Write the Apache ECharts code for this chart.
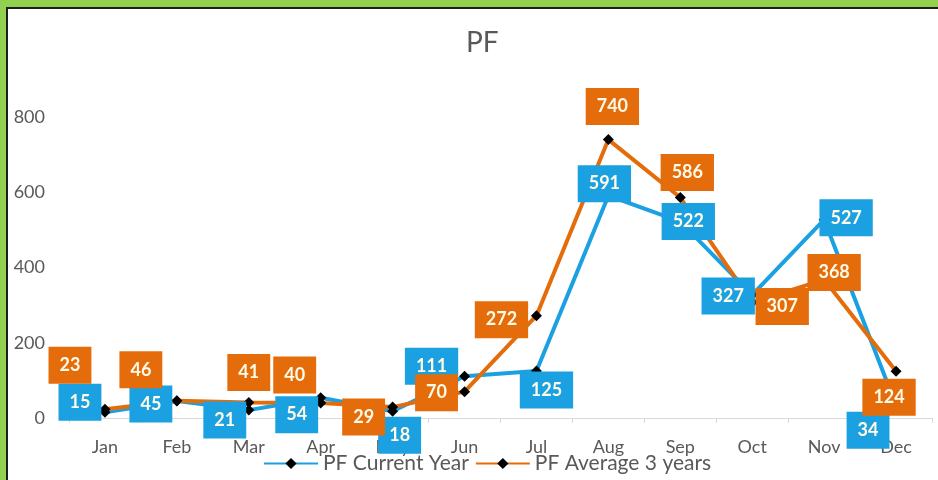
<!DOCTYPE html>
<html>
<head>
<meta charset="utf-8">
<title>PF</title>
<script src="https://cdn.jsdelivr.net/npm/echarts@6/dist/echarts.min.js"></script>
<style>
  html, body { margin: 0; padding: 0; }
  body { width: 938px; height: 480px; position: relative; overflow: hidden; background: #92d050; }
  #frame { position: absolute; left: 6px; top: 7px; right: 0; bottom: 0;
           border-left: 2px solid #1e1e1e; border-top: 2px solid #1e1e1e; background: #ffffff; }
  #chart { position: absolute; left: 0; top: 0; width: 938px; height: 480px; }
</style>
</head>
<body>
<div id="frame"></div>
<div id="chart"></div>
<script>
// Monthly PF figures
const months = ['Jan', 'Feb', 'Mar', 'Apr', 'May', 'Jun', 'Jul', 'Aug', 'Sep', 'Oct', 'Nov', 'Dec'];
const currentYear = [15, 45, 21, 54, 18, 111, 125, 591, 522, 327, 527, 34];
const average3Years = [23, 46, 41, 40, 29, 70, 272, 740, 586, 307, 368, 124];
const yTicks = { min: 0, max: 800, interval: 200 };

// Where each value box sits relative to its point (px)
const currentOffsets = [[-25, -10], [-26, 3], [-24, 10], [-24, 17], [7, 24], [-33, -10],
                        [10, 19], [-4, -12], [8, 0], [-24, 1], [22, -2], [-28, 25]];
const averageOffsets = [[-35, -44], [-36, -31], [0, -30], [-26, -28], [-29, 10], [-28, 1],
                        [-35, 4], [4, -33], [7, -25], [30, 4], [10, -7], [-7, 26]];

const BLUE = '#1ba1e2';
const ORANGE = '#e46c0a';
const GREY = '#595959';
const FONT = 'Lato, "Open Sans", sans-serif';

function lineSeries(name, values, color, z) {
  return {
    name: name,
    type: 'line',
    data: values,
    symbol: 'diamond',
    symbolSize: 11,
    itemStyle: { color: '#000000' },
    lineStyle: { color: color, width: 4 },
    z: z
  };
}

// Value boxes live in their own layer so they sit above both lines and markers
function labelSeries(name, values, offsets, color) {
  return {
    name: name,
    type: 'scatter',
    data: values.map((v, i) => ({
      value: v,
      label: { offset: offsets[i] }
    })),
    symbolSize: 1,
    itemStyle: { color: 'rgba(0,0,0,0)', opacity: 1 },
    emphasis: { disabled: true },
    silent: true,
    z: 10,
    label: {
      show: true,
      position: 'inside',
      opacity: 1,
      backgroundColor: color,
      color: '#fffbe8',
      fontFamily: FONT,
      fontWeight: 'bold',
      fontSize: 18,
      padding: [9, 11, 9, 11],
      lineHeight: 19
    }
  };
}

const chart = echarts.init(document.getElementById('chart'), null, { renderer: 'canvas' });
chart.setOption({
  backgroundColor: 'transparent',
  animation: false,
  title: {
    text: 'PF',
    left: 461,
    top: 24,
    textStyle: { color: GREY, fontFamily: FONT, fontWeight: 'normal', fontSize: 28 }
  },
  legend: {
    left: 258,
    top: 448,
    itemWidth: 54,
    itemHeight: 14,
    itemGap: 6,
    z: 12,
    textStyle: { color: GREY, fontFamily: FONT, fontSize: 21 },
    data: ['PF Current Year', 'PF Average 3 years']
  },
  grid: { left: 69, right: 6, top: 117, bottom: 62, containLabel: false },
  xAxis: {
    type: 'category',
    data: months,
    boundaryGap: true,
    axisLine: { lineStyle: { color: '#d9d9d9', width: 1 } },
    axisTick: { show: true, length: 5, lineStyle: { color: '#d9d9d9' } },
    axisLabel: { color: GREY, fontFamily: FONT, fontSize: 18, margin: 20 }
  },
  yAxis: {
    type: 'value',
    min: yTicks.min,
    max: yTicks.max,
    interval: yTicks.interval,
    axisLine: { show: false },
    axisTick: { show: false },
    splitLine: { show: false },
    axisLabel: { color: GREY, fontFamily: FONT, fontSize: 18, margin: 24 }
  },
  series: [
    lineSeries('PF Current Year', currentYear, BLUE, 2),
    lineSeries('PF Average 3 years', average3Years, ORANGE, 3),
    labelSeries('current labels', currentYear, currentOffsets, BLUE),
    labelSeries('average labels', average3Years, averageOffsets, ORANGE)
  ]
});
</script>
</body>
</html>
